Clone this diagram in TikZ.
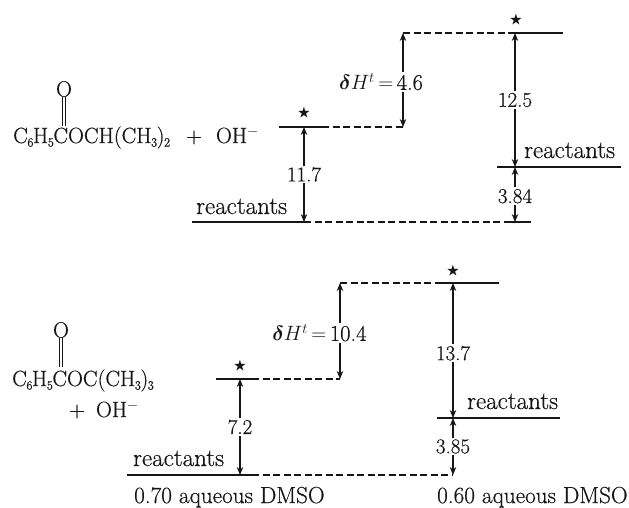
\documentclass[tikz,border=0pt]{standalone}
\usepackage{amsmath,amssymb}
\usepackage{fontspec}
\setmainfont{Latin Modern Roman}[FakeBold=0.5]
\usepackage{tikz}
\usetikzlibrary{arrows.meta,positioning}
\definecolor{ink}{HTML}{161616}
\newcommand{\subnum}[1]{\kern-.5pt\raisebox{-3.5pt}{\fontsize{12.5}{13}\selectfont #1}\kern-.5pt}

\begin{document}
\begin{tikzpicture}[x=1pt,y=-1pt,>={Stealth[length=8pt,width=6.5pt]},font=\fontsize{21}{24}\selectfont,text=ink]
 \tikzstyle{lbl}=[inner sep=1.5pt,fill=white]
 \tikzstyle{plain}=[inner sep=0pt,font=\fontsize{25}{28}\selectfont]
 \tikzstyle{solvent}=[inner sep=0pt,font=\fontsize{23.2}{26}\selectfont]
 \tikzstyle{chem}=[inner sep=0pt,font=\fontsize{22}{24}\selectfont]
 \tikzstyle{enthalpy}=[inner sep=1.5pt,fill=white,anchor=east,font=\fontsize{22.5}{25}\selectfont]
 \tikzstyle{starnode}=[inner sep=0pt,font=\fontsize{13}{14}\selectfont]
 \tikzstyle{level}=[draw=ink,line width=1.3pt]
 \tikzstyle{link}=[draw=ink,line width=1.1pt,dashed,dash pattern=on 7pt off 3.5pt]
 \tikzstyle{gap}=[draw=ink,line width=1.1pt,<->]
 \useasboundingbox (0,0) rectangle (629,507);
 \fill[white] (0,0) rectangle (629,507);
 % upper ketone
 \coordinate (ra1) at (192,222); \coordinate (ra2) at (304,222);
 \coordinate (ra3) at (505,222); \coordinate (ra4) at (531,222);
 \coordinate (ta1) at (279,127); \coordinate (ta2) at (304,127);
 \coordinate (ta3) at (322,127); \coordinate (ta4) at (403,127);
 \coordinate (ua1) at (403,33); \coordinate (ua2) at (508,33);
 \coordinate (ua3) at (515,33); \coordinate (ua4) at (563,33);
 \coordinate (va1) at (497,167); \coordinate (va2) at (515,167); \coordinate (va3) at (621,167);
 \coordinate (wa) at (515,222);
 \draw[level] (ra1) -- (ra2);
 \draw[link] (ra2) -- (ra3);
 \draw[level] (ra3) -- (ra4);
 \draw[level] (ta1) -- (ta3);
 \draw[link] (ta3) -- (ta4);
 \draw[link] (ua1) -- (ua2);
 \draw[level] (ua2) -- (ua4);
 \draw[level] (va1) -- (va3);
 \draw[gap] (ta2) -- node[lbl,pos=.5]{11.7} (ra2);
 \draw[gap] (ua1) -- node[enthalpy,pos=.52,xshift=22pt]{$\boldsymbol{\delta} H^t\,{=}\,$4.6} (ta4);
 \draw[gap] (ua3) -- node[lbl,pos=.5]{12.5} (va2);
 \draw[gap] (va2) -- node[lbl,pos=.53]{3.84} (wa);
 \node[starnode] (stara1) at (304,113) {$\bigstar$};
 \node[starnode] (stara2) at (516,20) {$\bigstar$};
 \node[plain,anchor=base west] (reacta1) at (196,214) {reactants};
 \node[plain,anchor=base west] (reacta2) at (524,158) {reactants};
 \node[chem,anchor=base west] (ketoa) at (13,143) {C\subnum{6}H\subnum{5}COCH(CH\subnum{3})\subnum{2}};
 \node[chem] (oxoa) at (64,89) {O};
 \coordinate (carba) at (64,126);
 \draw[double,double distance=2.5pt,draw=ink,line width=.8pt] (oxoa) -- (carba);
 \node[chem,anchor=base west] (hydra) at (186,143) {+\hspace{14pt}OH$^-$};
 % lower ketone
 \coordinate (rb1) at (127,475); \coordinate (rb2) at (240,475);
 \coordinate (rb3) at (252,475); \coordinate (rb4) at (453,475);
 \coordinate (tb1) at (216,379); \coordinate (tb2) at (240,379);
 \coordinate (tb3) at (252,379); \coordinate (tb4) at (340,379);
 \coordinate (ub1) at (340,283); \coordinate (ub2) at (438,283);
 \coordinate (ub3) at (453,283); \coordinate (ub4) at (499,283);
 \coordinate (vb1) at (437,418); \coordinate (vb2) at (453,418); \coordinate (vb3) at (560,418);
 \draw[level] (rb1) -- (rb3);
 \draw[link] (rb3) -- (rb4);
 \draw[level] (tb1) -- (tb3);
 \draw[link] (tb3) -- (tb4);
 \draw[link] (ub1) -- (ub2);
 \draw[level] (ub2) -- (ub4);
 \draw[level] (vb1) -- (vb3);
 \draw[gap] (tb2) -- node[lbl,pos=.5]{7.2} (rb2);
 \draw[gap] (ub1) -- node[enthalpy,pos=.52,xshift=28.5pt]{$\boldsymbol{\delta} H^t\,{=}\,$10.4} (tb4);
 \draw[gap] (ub3) -- node[lbl,pos=.52]{13.7} (vb2);
 \draw[gap] (vb2) -- node[lbl,pos=.5]{3.85} (rb4);
 \node[starnode] (starb1) at (240,366) {$\bigstar$};
 \node[starnode] (starb2) at (453,271) {$\bigstar$};
 \node[plain,anchor=base west] (reactb1) at (133,466) {reactants};
 \node[plain,anchor=base west] (reactb2) at (467,409) {reactants};
 \node[chem,anchor=base west] (ketob) at (12,386) {C\subnum{6}H\subnum{5}COC(CH\subnum{3})\subnum{3}};
 \node[chem] (oxob) at (61,330) {O};
 \coordinate (carbb) at (61,367);
 \draw[double,double distance=2.5pt,draw=ink,line width=.8pt] (oxob) -- (carbb);
 \node[chem,anchor=base west] (hydrb) at (69,417) {+\hspace{11pt}OH$^-$};
 % solvent labels
 \node[solvent,anchor=base west] (solva) at (134,503) {0.70 aqueous DMSO};
 \node[solvent,anchor=base west] (solvb) at (437,503) {0.60 aqueous DMSO};
\end{tikzpicture}
\end{document}
